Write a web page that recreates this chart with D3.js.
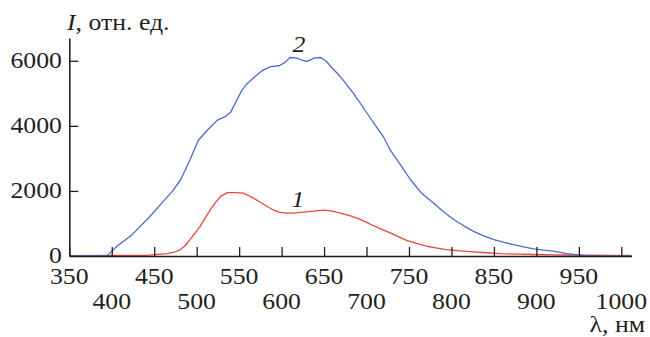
<!DOCTYPE html>
<html><head><meta charset="utf-8">
<script src="https://cdn.jsdelivr.net/npm/d3@7"></script>
</head>
<body style="margin:0;background:#fff">
<svg id="fig" width="650" height="337" font-family="Times New Roman" style="display:block"></svg>
<script>
// ---- data ----
const xTicks = [350,400,450,500,550,600,650,700,750,800,850,900,950,1000];
const yTicks = [0,2000,4000,6000];

const blueX = [350,370,390,395,406,424,445,457,471,481,492,502,513,524,534,540,547,553,559,568,577,587,597,604,610,618,624,630,634,638,646,652,659,666,673,685,693,701,710,720,728,740,752,765,779,791,803,815,826,838,850,862,873,885,897,908,920,928,936,942,948,955,970,990,1012];
const blueY = [0,0,0,20,300,656,1215,1572,1980,2336,2950,3557,3880,4168,4290,4421,4780,5084,5288,5500,5695,5818,5847,5950,6100,6082,6020,5980,6030,6082,6100,6000,5795,5600,5389,4983,4680,4372,4030,3658,3252,2800,2336,1926,1624,1350,1115,920,757,620,504,420,351,280,220,180,147,110,76,55,37,15,5,0,0];

const redX = [350,400,440,465,475,481,487,492,498,504,510,516,522,528,536,545,555,561,567,575,583,590,598,606,614,622,630,640,650,660,669,679,689,699,708,718,728,738,748,760,771,783,794,810,826,842,858,878,897,920,936,960,990,1012];
const redY = [10,15,20,76,130,198,330,504,700,910,1170,1420,1640,1826,1948,1950,1930,1860,1777,1650,1521,1420,1338,1320,1318,1338,1359,1385,1410,1380,1318,1250,1166,1050,931,820,708,590,473,380,300,245,198,160,128,100,76,58,46,36,30,25,20,18];

const series = [
  {name:"1", xs:redX, ys:redY, color:"#e8483c"},
  {name:"2", xs:blueX, ys:blueY, color:"#4a6bc9"}
];

// ---- chart ----
const svg = d3.select("#fig");
const x = d3.scaleLinear().domain([350, 1012]).range([69.3, 631.5]);
const y = d3.scaleLinear().domain([0, 6700]).range([256, 38]);
const FS = 23, SX = 1.12;

function stretch(t){
  const w = t.node().getComputedTextLength();
  t.attr("textLength", w * SX).attr("lengthAdjust", "spacingAndGlyphs");
}

function label(g, txt, px, py, anchor, italic){
  const t = g.append("text")
    .attr("x", px).attr("y", py)
    .attr("font-size", FS)
    .attr("fill", "#231f20")
    .attr("text-anchor", anchor || "start");
  if (italic) t.attr("font-style","italic");
  t.text(txt);
  stretch(t);
  return t;
}

const lineGen = d3.line().x(d => x(d[0])).y(d => y(d[1]));
series.forEach(s => {
  const pts = s.xs.map((v,i) => [v, s.ys[i]]);
  svg.append("path").datum(pts)
    .attr("d", lineGen)
    .attr("fill","none")
    .attr("stroke", s.color)
    .attr("stroke-width", 1.3)
    .attr("stroke-linejoin","round");
});

// axes
const ax = svg.append("g").attr("transform", `translate(0,${y(0)})`)
  .call(d3.axisTop(x).tickValues(xTicks).tickSize(9).tickSizeOuter(0).tickFormat(""));
const ay = svg.append("g").attr("transform", `translate(${x(350)},0)`)
  .call(d3.axisRight(y).tickValues(yTicks.filter(v=>v>0)).tickSize(9).tickSizeOuter(0).tickFormat(""));
[ax, ay].forEach(g => {
  g.attr("font-family", null).attr("font-size", null);
  g.selectAll("path.domain").attr("stroke","#231f20").attr("stroke-width",1.6);
  g.selectAll(".tick line").attr("stroke","#231f20").attr("stroke-width",1.3);
});

// tick labels
const tl = svg.append("g");
xTicks.forEach((v,i) => {
  label(tl, String(v), x(v), i % 2 === 0 ? 284 : 309, "middle");
});
yTicks.forEach(v => {
  label(tl, String(v), 62, y(v) + 7, "end");
});

// axis titles
const yt = tl.append("text").attr("x", 67).attr("y", 30)
  .attr("font-size", FS).attr("fill", "#231f20");
yt.append("tspan").attr("font-style","italic").text("I");
yt.append("tspan").text(", отн. ед.");
stretch(yt);

label(tl, "λ, нм", 645, 332, "end");

// curve labels
label(tl, "2", 299, 52, "middle", true);
label(tl, "1", 298, 207, "middle", true);
</script>
</body></html>
